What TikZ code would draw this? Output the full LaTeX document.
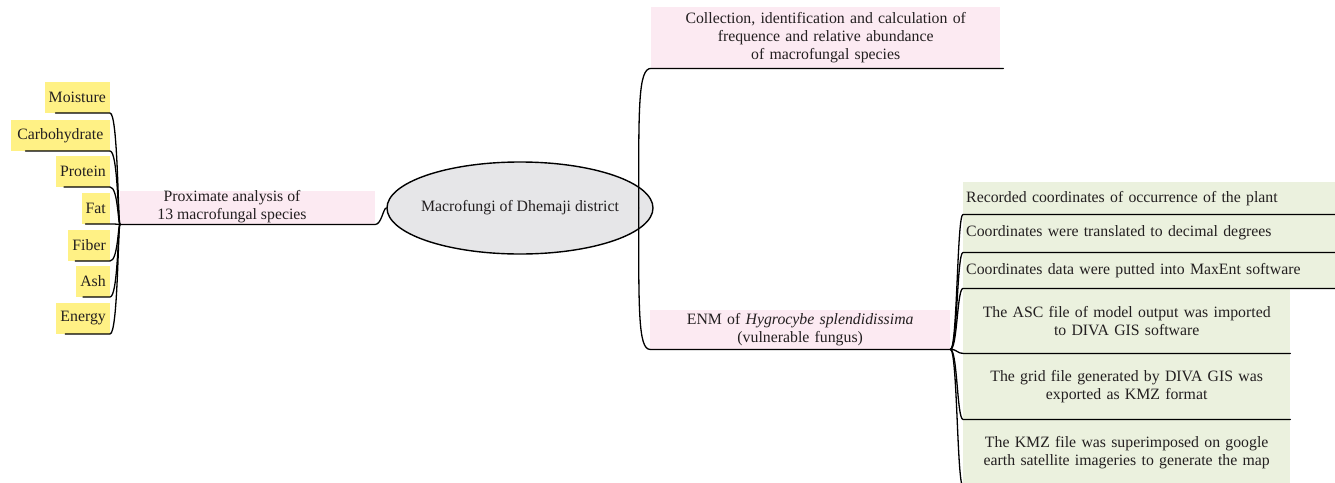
\documentclass[tikz,border=0pt]{standalone}
\usepackage{fontspec}
\setmainfont{Liberation Serif}
\usetikzlibrary{shapes.geometric,calc}
\definecolor{pinkbg}{RGB}{252,234,242}
\definecolor{greenbg}{RGB}{235,241,222}
\definecolor{yellowbg}{RGB}{255,241,133}
\definecolor{rootbg}{RGB}{230,230,232}
\definecolor{ink}{RGB}{35,31,32}
\begin{document}
\begin{tikzpicture}[x=1pt,y=-1pt,
  txt/.style={font=\fontsize{15.8pt}{18pt}\selectfont, text=ink, inner sep=0pt},
  pinkbox/.style={txt, fill=pinkbg, align=center},
  greenbox/.style={txt, fill=greenbg, anchor=north west, inner xsep=3pt},
  leaf/.style={txt, fill=yellowbg, anchor=south east, inner xsep=4pt, minimum height=31pt},
  conn/.style={draw=black, line width=1.3pt, line cap=round}]
\useasboundingbox (0,0) rectangle (1335,482);
\clip (0,0) rectangle (1335,482);
% root
\node[ellipse, draw=black, line width=1.4pt, fill=rootbg, inner sep=0pt, minimum width=266pt, minimum height=92pt] (root) at (520,208) {};
\node[txt] (rootlabel) at (root.center) {Macrofungi of Dhemaji district};
% first level
\node[pinkbox, anchor=north west, text width=349pt, minimum height=61pt] (coll) at (651,7) {Collection, identification and calculation of\\frequence and relative abundance\\of macrofungal species};
\node[pinkbox, anchor=north west, text width=300pt, minimum height=39pt] (enm) at (650,310) {ENM of \textit{Hygrocybe splendidissima}\\(vulnerable fungus)};
\node[pinkbox, anchor=north west, minimum width=255pt, minimum height=33pt] (prox) at (120,191) {};
\node[txt, align=center] (proxt) at (232,207) {Proximate analysis of\\13 macrofungal species};
% leaves (left)
\node[leaf] (moist) at (110,113) {Moisture};
\node[leaf, inner xsep=6.5pt] (carb) at (110,151) {Carbohydrate};
\node[leaf] (prot) at (110,187) {Protein};
\node[leaf] (fat) at (110,224) {Fat};
\node[leaf] (fib) at (110,261) {Fiber};
\node[leaf] (ash) at (110,297) {Ash};
\node[leaf] (ener) at (110,334) {Energy};
% leaves (right)
\node[greenbox, text width=366pt, minimum height=32pt, align=left] (r1) at (963,182) {Recorded coordinates of occurrence of the plant};
\node[greenbox, text width=366pt, minimum height=38pt, align=left] (r2) at (963,214) {Coordinates were translated to decimal degrees};
\node[greenbox, text width=366pt, minimum height=36pt, align=left] (r3) at (963,252) {Coordinates data were putted into MaxEnt software};
\node[greenbox, text width=321pt, minimum height=65pt, align=center] (r4) at (963,288) {The ASC file of model output was imported\\to DIVA GIS software};
\node[greenbox, text width=321pt, minimum height=66pt, align=center] (r5) at (963,353) {The grid file generated by DIVA GIS was\\exported as KMZ format};
\node[greenbox, text width=321pt, minimum height=67pt, align=center] (r6) at (963,419) {The KMZ file was superimposed on google\\earth satellite imageries to generate the map};
% junctions
\coordinate (J0) at ([xshift=-15pt]root.east);
\coordinate (J1) at (prox.south west);
\coordinate (J2) at (enm.south east);
% connectors from root
\draw[conn] (J0) .. controls +(0,-100) and ([xshift=-13pt]coll.south west) .. (coll.south west) -- ([xshift=3pt]coll.south east);
\draw[conn] (J0) .. controls +(0,100) and ([xshift=-12pt]enm.south west) .. (enm.south west) -- (enm.south east);
\draw[conn] (root.west) .. controls ([xshift=-3pt]root.west) and ([xshift=6pt]prox.south east) .. (prox.south east) -- (J1);
% left leaves
\foreach \n/\s in {moist/11, carb/15, prot/8, fat/4, fib/7, ash/7, ener/9}{
  \draw[conn] (J1) .. controls ([xshift=-2pt]J1) and ([xshift=8pt]\n.south east) .. (\n.south east) -- ([xshift=\s pt]\n.south west);
}
% right leaves
\foreach \n in {r1,r2,r3,r4,r5,r6}{
  \draw[conn] (J2) .. controls ([xshift=7pt]J2) and ([xshift=-6pt]\n.south west) .. (\n.south west) -- (\n.south east);
}
\end{tikzpicture}
\end{document}
